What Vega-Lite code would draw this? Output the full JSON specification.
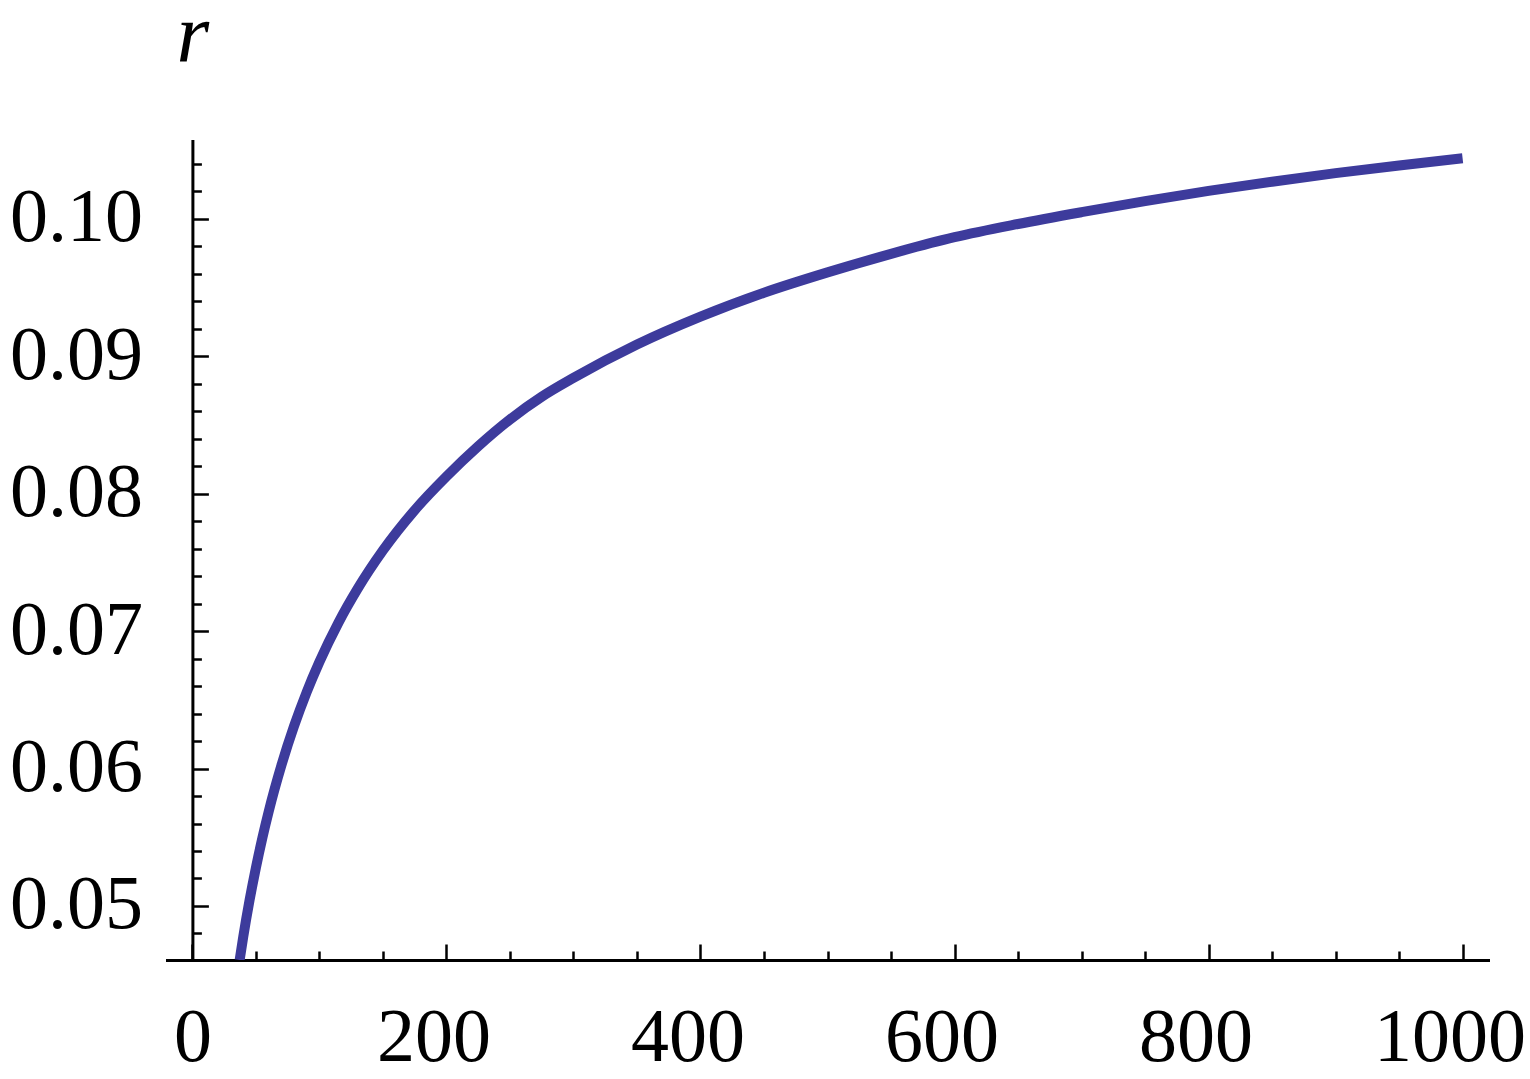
{
  "$schema": "https://vega.github.io/schema/vega-lite/v6.json",
  "width": 1321,
  "height": 819,
  "autosize": "none",
  "padding": {"left": 167, "top": 141, "right": 42, "bottom": 119},
  "background": "white",
  "config": {"view": {"stroke": null}},
  "data": {"values": [
    {"x": 37.2, "r": 0.04607},
    {"x": 40, "r": 0.04774},
    {"x": 45, "r": 0.05042},
    {"x": 50, "r": 0.05279},
    {"x": 55, "r": 0.05492},
    {"x": 60, "r": 0.05685},
    {"x": 70, "r": 0.06021},
    {"x": 80, "r": 0.06308},
    {"x": 90, "r": 0.06557},
    {"x": 100, "r": 0.06776},
    {"x": 115, "r": 0.07062},
    {"x": 130, "r": 0.07307},
    {"x": 150, "r": 0.07587},
    {"x": 175, "r": 0.07880},
    {"x": 200, "r": 0.08125},
    {"x": 225, "r": 0.08345},
    {"x": 250, "r": 0.08540},
    {"x": 275, "r": 0.08705},
    {"x": 300, "r": 0.08842},
    {"x": 350, "r": 0.09085},
    {"x": 400, "r": 0.09288},
    {"x": 450, "r": 0.09462},
    {"x": 500, "r": 0.09610},
    {"x": 550, "r": 0.09745},
    {"x": 600, "r": 0.09866},
    {"x": 650, "r": 0.09962},
    {"x": 700, "r": 0.10048},
    {"x": 750, "r": 0.10129},
    {"x": 800, "r": 0.10203},
    {"x": 850, "r": 0.10270},
    {"x": 900, "r": 0.10332},
    {"x": 950, "r": 0.10388},
    {"x": 1000, "r": 0.10440}
  ]},
  "mark": {"type": "line", "color": "#3d3b9c", "strokeWidth": 10, "interpolate": "monotone", "clip": true},
  "encoding": {
    "x": {
      "field": "x", "type": "quantitative",
      "scale": {"domain": [-20, 1020], "nice": false, "zero": false},
      "axis": {
        "orient": "bottom",
        "title": null,
        "grid": false,
        "values": [0, 50, 100, 150, 200, 250, 300, 350, 400, 450, 500, 550, 600, 650, 700, 750, 800, 850, 900, 950, 1000],
        "domainColor": "black", "domainWidth": 3, "domainCap": "square",
        "tickColor": "black", "tickWidth": 2.5,
        "tickSize": {"condition": {"test": "datum.value % 200 === 0", "value": -16}, "value": -9},
        "labelExpr": "datum.value % 200 === 0 ? ('' + datum.value) : ''",
        "labelFont": "Liberation Serif", "labelFontSize": 76, "labelColor": "black",
        "labelBaseline": "alphabetic", "labelAlign": "center",
        "labelPadding": 116,
        "labelOffset": {"condition": {"test": "datum.value === 0", "value": 0}, "value": -13},
        "labelOverlap": false, "labelFlush": false, "labelBound": false
      }
    },
    "y": {
      "field": "r", "type": "quantitative",
      "scale": {"domain": [0.04607, 0.10566], "nice": false, "zero": false},
      "axis": {
        "orient": "left",
        "offset": -25.4,
        "grid": false,
        "values": [0.048, 0.05, 0.052, 0.054, 0.056, 0.058, 0.06, 0.062, 0.064, 0.066, 0.068, 0.07, 0.072, 0.074, 0.076, 0.078, 0.08, 0.082, 0.084, 0.086, 0.088, 0.09, 0.092, 0.094, 0.096, 0.098, 0.1, 0.102, 0.104],
        "domainColor": "black", "domainWidth": 3, "domainCap": "square",
        "tickColor": "black", "tickWidth": 2.5,
        "tickSize": {"condition": {"test": "round(datum.value * 1000) % 10 === 0", "value": -16}, "value": -9},
        "labelExpr": "round(datum.value * 1000) % 10 === 0 ? format(datum.value, '.2f') : ''",
        "labelFont": "Liberation Serif", "labelFontSize": 76, "labelColor": "black",
        "labelBaseline": "alphabetic", "labelAlign": "right",
        "labelPadding": 66,
        "labelOffset": 22,
        "labelOverlap": false, "labelFlush": false, "labelBound": false,
        "title": "r",
        "titleFont": "Liberation Serif", "titleFontStyle": "italic", "titleFontWeight": "normal",
        "titleFontSize": 84, "titleColor": "black",
        "titleAngle": 0, "titleAlign": "center", "titleBaseline": "alphabetic",
        "titleX": 0, "titleY": -80
      }
    }
  }
}
